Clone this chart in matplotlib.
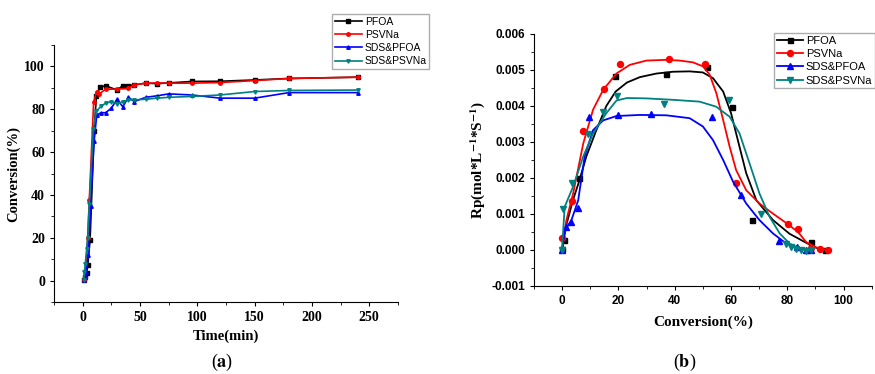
import numpy as np
import matplotlib
matplotlib.use('Agg')
import matplotlib.pyplot as plt
from matplotlib.lines import Line2D
from matplotlib.ticker import MultipleLocator, FormatStrFormatter

plt.rcParams['mathtext.fontset'] = 'stix'
SERIF = 'Liberation Serif'
SANS = 'Liberation Sans'

labels = ['PFOA', 'PSVNa', 'SDS&PFOA', 'SDS&PSVNa']
colors = ['black', 'red', 'blue', '#008080']
markers = ['s', 'o', '^', 'v']

# ---- panel (a): conversion vs time ----
t_pfoa = [1, 2, 3.5, 4.5, 6.5, 10, 12, 15, 20, 30, 35, 40, 45, 55, 65, 75, 95, 120, 150, 180, 240]
c_pfoa = [0.5, 1.5, 3.5, 7.5, 19, 70, 86, 90.3, 91, 89, 91, 91, 91.4, 92.2, 92, 92.3, 93, 93.1, 93.7, 94.4, 95]
t_psvna = [1, 2.3, 4.4, 5.8, 9.6, 12.3, 14.6, 20, 30, 40, 45, 55, 65, 75, 95, 120, 150, 180, 240]
c_psvna = [0.3, 1, 20, 37.5, 83.6, 88.3, 87.2, 89.4, 89.4, 89.8, 91.4, 92.2, 92.3, 92.2, 92.2, 92.5, 93.4, 94.4, 95]
t_sdspfoa = [1, 2, 3, 5, 7, 10, 12.3, 16, 20, 25, 30, 35, 40, 45, 55, 65, 75, 95, 120, 150, 180, 240]
c_sdspfoa = [0.3, 1.5, 4, 12, 35, 65, 77.3, 78.4, 78.4, 80.5, 84.7, 81.2, 85.6, 83.6, 85.6, 86.3, 87.2, 86.7, 85.2, 85.2, 87.8, 87.8]
t_sdspsvna = [1, 1.5, 2.3, 3.5, 4.4, 5.8, 9.3, 12, 16, 20, 25, 30, 35, 40, 45, 55, 65, 75, 95, 120, 150, 180, 240]
c_sdspsvna = [0.3, 4, 7.8, 14.8, 20, 36, 71, 79, 81.5, 82.8, 83.6, 82.5, 83.6, 84.4, 84.4, 84.7, 85.2, 85.6, 86, 86.7, 88.3, 88.8, 89]

# ---- panel (b): rate vs conversion, measured points ----
xb_pfoa = [0, 0.6, 6, 18.9, 37, 51.5, 60.5, 67.5, 88.5, 93.3]
yb_pfoa = [0.00004, 0.00029, 0.0020, 0.00482, 0.00489, 0.00507, 0.00396, 0.00084, 0.00022, 0.00001]
xb_psvna = [0, 3.5, 7.5, 14.8, 20.5, 38.1, 50.8, 61.8, 80.4, 83.8, 88.5, 91.5, 94.4]
yb_psvna = [0.00034, 0.00136, 0.0033, 0.00447, 0.00517, 0.0053, 0.00517, 0.00187, 0.00073, 0.00057, 0.00006, 0.00002, 0.0]
xb_sdspfoa = [0, 1.5, 3, 5.8, 9.5, 19.9, 31.4, 53.4, 63.6, 77, 83.6, 86.7, 88.5]
yb_sdspfoa = [0.0, 0.00064, 0.00078, 0.00117, 0.00369, 0.00375, 0.00377, 0.00368, 0.00154, 0.00025, 0.00007, 0.0, 0.0]
xb_sdspsvna = [0, 0.4, 3.6, 9.3, 14.6, 19.6, 36.3, 59.4, 70.6, 79.5, 81.3, 83.1, 84.7, 86.7, 88.3]
yb_sdspsvna = [0.0, 0.00115, 0.00187, 0.00321, 0.00382, 0.00428, 0.00405, 0.00417, 0.00101, 0.00018, 0.00008, 0.00004, 0.0, -0.00002, 0.0]

# fitted curves
xf_pfoa = [0, 1.5, 3.9, 6, 8.6, 12, 15.7, 19, 23, 27.6, 33.5, 39.4, 45.3, 50, 53.6, 57.2, 60, 63, 65.4, 69, 74.9, 80.8, 86.7, 90.3, 93.8]
yf_pfoa = [0.00004, 0.0007, 0.0014, 0.0019, 0.0026, 0.0033, 0.0040, 0.0044, 0.00465, 0.0048, 0.0049, 0.00495, 0.00496, 0.00493, 0.00477, 0.0044, 0.0038, 0.00287, 0.00213, 0.00138, 0.00083, 0.00045, 0.0002, 0.00006, 0.00001]
xf_psvna = [0, 1.5, 3.9, 7.5, 11, 14.6, 19.3, 24, 29.9, 37, 41.8, 46.5, 50, 52.4, 54.8, 57.2, 59.5, 61.8, 65.4, 70.1, 74.9, 79.6, 83.8, 86.7, 90.3, 94.4]
yf_psvna = [0.0, 0.00083, 0.00157, 0.00296, 0.0039, 0.00445, 0.0049, 0.00514, 0.00526, 0.00528, 0.00526, 0.00521, 0.0051, 0.00487, 0.00435, 0.00361, 0.00287, 0.00222, 0.00166, 0.00129, 0.00101, 0.00075, 0.0005, 0.00022, 0.00007, 0.0]
xf_sdspfoa = [0, 0.9, 3.3, 5.7, 8, 11, 14.6, 19.3, 27.6, 37, 45.3, 50, 53.6, 57.2, 60.7, 65.4, 70.1, 74.9, 79.6, 84.4, 88.4]
yf_sdspfoa = [0.0, 0.00054, 0.00083, 0.00138, 0.0026, 0.00333, 0.0036, 0.00372, 0.00375, 0.00374, 0.00366, 0.00343, 0.00305, 0.0025, 0.0019, 0.00129, 0.00083, 0.00046, 0.00018, 0.00004, 0.0]
xf_sdspsvna = [0, 0.9, 3.9, 7.5, 11, 15.7, 19.3, 23, 29.9, 39.4, 48.8, 54.7, 59.5, 63, 66.6, 70.1, 73.7, 77.3, 80.8, 84.4, 87.9]
yf_sdspsvna = [0.00008, 0.0012, 0.00176, 0.0026, 0.00324, 0.0038, 0.00415, 0.00422, 0.00421, 0.00417, 0.00412, 0.00398, 0.0037, 0.00324, 0.0024, 0.00157, 0.00092, 0.00046, 0.00018, 0.00004, 0.0]

fig = plt.figure(figsize=(8.75, 3.74), dpi=100)


def style_axes(ax, font, size):
    ax.spines['top'].set_visible(False)
    ax.spines['right'].set_visible(False)
    ax.tick_params(which='major', direction='out', length=3, width=0.8)
    ax.tick_params(which='minor', direction='out', length=2, width=0.6)
    for lab in ax.get_xticklabels() + ax.get_yticklabels():
        lab.set_fontfamily(font)
        lab.set_fontweight('bold')
        lab.set_fontsize(size)


# panel (a)
ax1 = fig.add_axes([0.0617, 0.1925, 0.393, 0.687])
a_t = [t_pfoa, t_psvna, t_sdspfoa, t_sdspsvna]
a_c = [c_pfoa, c_psvna, c_sdspfoa, c_sdspsvna]
for t, c, col, m, lab in zip(a_t, a_c, colors, markers, labels):
    ax1.plot(t, c, color=col, marker=m, markersize=2.5, linewidth=1.2, label=lab)
ax1.set_xlim(-25, 275)
ax1.set_ylim(-10, 110)
ax1.xaxis.set_major_locator(MultipleLocator(50))
ax1.xaxis.set_minor_locator(MultipleLocator(25))
ax1.yaxis.set_major_locator(MultipleLocator(20))
ax1.yaxis.set_minor_locator(MultipleLocator(10))
ax1.set_yticks([0, 20, 40, 60, 80, 100])
style_axes(ax1, SERIF, 10)
ax1.set_xlabel('Time(min)', fontfamily=SERIF, fontweight='bold', fontsize=10.5, labelpad=4)
ax1.set_ylabel('Conversion(%)', fontfamily=SERIF, fontweight='bold', fontsize=10.5, labelpad=3)
ax1.legend(loc='upper left', bbox_to_anchor=(0.3794, 0.962), bbox_transform=fig.transFigure,
           prop={'family': SANS, 'size': 7.5}, frameon=True, fancybox=False, edgecolor='#999999',
           handlelength=2.6, handletextpad=0.3, labelspacing=0.3, borderpad=0.25, borderaxespad=0,
           markerscale=1.0)

# panel (b)
ax2 = fig.add_axes([0.6103, 0.2353, 0.386, 0.674])
b_x = [xb_pfoa, xb_psvna, xb_sdspfoa, xb_sdspsvna]
b_y = [yb_pfoa, yb_psvna, yb_sdspfoa, yb_sdspsvna]
f_x = [xf_pfoa, xf_psvna, xf_sdspfoa, xf_sdspsvna]
f_y = [yf_pfoa, yf_psvna, yf_sdspfoa, yf_sdspsvna]
handles = []
for bx, by, fx, fy, col, m, lab in zip(b_x, b_y, f_x, f_y, colors, markers, labels):
    ms = 3.6 if m == 's' else 4.3
    ax2.plot(fx, fy, color=col, linewidth=1.3)
    ax2.plot(bx, by, linestyle='none', color=col, marker=m, markersize=ms)
    handles.append(Line2D([], [], color=col, marker=m, linewidth=1.3, markersize=ms, label=lab))
ax2.set_xlim(-10, 110)
ax2.set_ylim(-0.001, 0.006)
ax2.xaxis.set_major_locator(MultipleLocator(20))
ax2.xaxis.set_minor_locator(MultipleLocator(10))
ax2.set_xticks([0, 20, 40, 60, 80, 100])
ax2.yaxis.set_major_locator(MultipleLocator(0.001))
ax2.yaxis.set_minor_locator(MultipleLocator(0.0005))
ax2.yaxis.set_major_formatter(FormatStrFormatter('%.3f'))
style_axes(ax2, SANS, 8.5)
ax2.set_xlabel('Conversion(%)', fontfamily=SERIF, fontweight='bold', fontsize=11, labelpad=6)
ax2.set_ylabel(r'Rp(mol*L$^{\mathbf{-1}}$*S$^{\mathbf{-1}}$)', fontfamily=SERIF, fontweight='bold',
               fontsize=11, labelpad=3)
ax2.legend(handles=handles, loc='upper left', bbox_to_anchor=(0.8846, 0.912), bbox_transform=fig.transFigure,
           prop={'family': SANS, 'size': 8}, frameon=True, fancybox=False, edgecolor='#999999',
           handlelength=2.4, handletextpad=0.2, labelspacing=0.3, borderpad=0.25, borderaxespad=0)

# captions
fig.text(0.254, 0.03, r'($\mathbf{a}$)', fontfamily=SERIF, fontsize=13, ha='center', va='center')
fig.text(0.783, 0.03, r'($\mathbf{b}$)', fontfamily=SERIF, fontsize=13, ha='center', va='center')

fig.savefig('out.png', dpi=100)
